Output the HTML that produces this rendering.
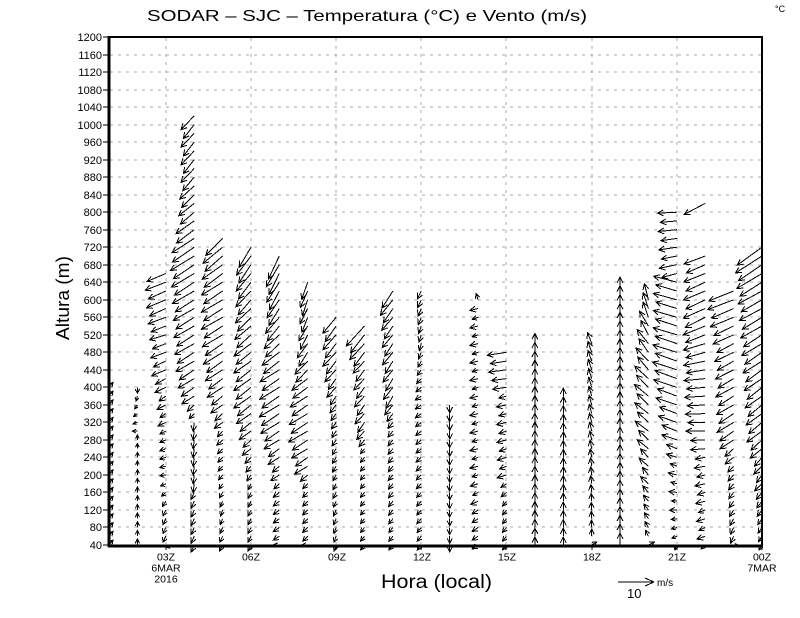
<!DOCTYPE html>
<html><head><meta charset="utf-8">
<style>
html,body{margin:0;padding:0;background:#fff;}
svg{display:block;}
text{font-family:"Liberation Sans",sans-serif;fill:#000;}
</style></head>
<body>
<svg id="s" width="800" height="618" viewBox="0 0 800 618" xmlns="http://www.w3.org/2000/svg">
<rect width="800" height="618" fill="#fff"/>
<g id="grid" stroke="#a8a8a8" stroke-width="1" stroke-dasharray="3,5" shape-rendering="crispEdges"></g>
<g id="ticks" stroke="#000" stroke-width="1" shape-rendering="crispEdges"></g>
<g id="ylab" font-size="11" text-anchor="end"></g>
<path id="arrows" fill="none" stroke="#000" stroke-width="1" shape-rendering="crispEdges" d=""/>
<!-- frame -->
<line x1="109" y1="37" x2="762" y2="37" stroke="#000" stroke-width="2" shape-rendering="crispEdges"/>
<line x1="762" y1="36" x2="762" y2="546" stroke="#000" stroke-width="2" shape-rendering="crispEdges"/>
<line x1="109" y1="36" x2="109" y2="547" stroke="#000" stroke-width="3" shape-rendering="crispEdges"/>
<line x1="108" y1="546" x2="763" y2="546" stroke="#000" stroke-width="3" shape-rendering="crispEdges"/>
<!-- x labels -->
<g font-size="10.5" text-anchor="middle">
<text x="166" y="560.5">03Z</text>
<text x="166" y="571.5">6MAR</text>
<text x="166" y="582.5">2016</text>
<text x="251" y="560.5">06Z</text>
<text x="337" y="560.5">09Z</text>
<text x="422" y="560.5">12Z</text>
<text x="507" y="560.5">15Z</text>
<text x="592" y="560.5">18Z</text>
<text x="677" y="560.5">21Z</text>
<text x="762" y="560.5">00Z</text>
<text x="762" y="571.5">7MAR</text>
</g>
<!-- titles -->
<text x="147" y="21" font-size="16" textLength="440" lengthAdjust="spacingAndGlyphs">SODAR  –  SJC  –  Temperatura (°C) e Vento (m/s)</text>
<text x="775" y="12" font-size="9">°C</text>
<text x="0" y="0" font-size="18" textLength="84" lengthAdjust="spacingAndGlyphs" transform="translate(69,340) rotate(-90)">Altura (m)</text>
<text x="381" y="588" font-size="19" textLength="111" lengthAdjust="spacingAndGlyphs">Hora (local)</text>
<!-- legend -->
<g stroke="#000" stroke-width="1" fill="none" shape-rendering="crispEdges">
<line x1="618" y1="582" x2="654" y2="582"/>
<line x1="654" y1="582" x2="645" y2="578"/>
<line x1="654" y1="582" x2="645" y2="586"/>
</g>
<text x="627" y="598" font-size="13">10</text>
<text x="657" y="586" font-size="10">m/s</text>
</svg>
<script>
(function(){
var NS="http://www.w3.org/2000/svg";
function yOf(h){return 545-(h-40)*508/1160;}
function xOfHour(hr){return 109+(hr-1)*653/23;}
var grid=document.getElementById('grid'), ticks=document.getElementById('ticks'), ylab=document.getElementById('ylab');
for(var h=40;h<=1200;h+=40){
  var y=Math.round(yOf(h));
  if(h>40&&h<1200){var l=document.createElementNS(NS,'line');l.setAttribute('x1',110);l.setAttribute('x2',761);l.setAttribute('y1',y);l.setAttribute('y2',y);grid.appendChild(l);}
  var t=document.createElementNS(NS,'line');t.setAttribute('x1',103);t.setAttribute('x2',109);t.setAttribute('y1',y);t.setAttribute('y2',y);ticks.appendChild(t);
  var tx=document.createElementNS(NS,'text');tx.setAttribute('x',102);tx.setAttribute('y',y+4);tx.textContent=h;ylab.appendChild(tx);
}
for(var hr=3;hr<=24;hr+=3){
  var x=Math.round(xOfHour(hr));
  if(hr<24){var l2=document.createElementNS(NS,'line');l2.setAttribute('x1',x);l2.setAttribute('x2',x);l2.setAttribute('y1',38);l2.setAttribute('y2',544);grid.appendChild(l2);}
  var t2=document.createElementNS(NS,'line');t2.setAttribute('x1',x);t2.setAttribute('x2',x);t2.setAttribute('y1',546);t2.setAttribute('y2',550);ticks.appendChild(t2);
}
var cols=[
 {hr:1,top:400,k:[[400,4,-5],[40,4,-5]]},
 {hr:2,top:400,k:[[400,0,6],[340,-4,3],[300,-5,0],[280,0,-5],[40,0,-6]]},
 {hr:3,top:660,k:[[660,-20,8],[600,-18,8],[520,-15,5],[440,-13,6],[380,-8,5],[300,-6,3],[200,-6,1],[130,-3,6],[60,-3,6],[40,4,3]]},
 {hr:4,top:1020,k:[[1020,-12,14],[900,-12,14],[800,-15,12],[720,-23,15],[600,-20,12],[480,-18,11],[400,-14,9],[340,-5,5],[320,-1,9],[180,-1,9],[160,-3,7],[40,-3,7]]},
 {hr:5,top:740,k:[[740,-18,17],[640,-20,13],[560,-20,12],[480,-18,12],[400,-14,10],[320,-7,6],[260,-5,5],[200,-4,5],[120,-2,6],[40,-3,6]]},
 {hr:6,top:720,k:[[720,-13,20],[600,-14,15],[480,-16,12],[380,-16,12],[320,-12,9],[240,-6,6],[180,-3,6],[40,-3,6]]},
 {hr:7,top:700,k:[[700,-12,23],[600,-11,18],[520,-14,14],[440,-18,12],[340,-19,12],[280,-14,9],[220,-8,6],[160,-6,5],[60,-6,4],[40,-6,0]]},
 {hr:8,top:640,k:[[640,-6,17],[560,-7,15],[480,-10,14],[400,-16,11],[300,-18,11],[220,-12,8],[180,-5,5],[60,-5,5],[40,-6,0]]},
 {hr:9,top:560,k:[[560,-12,16],[480,-12,14],[400,-8,10],[340,-5,7],[280,-4,6],[40,-2,6]]},
 {hr:10,top:540,k:[[540,-17,20],[460,-10,12],[320,-8,10],[260,-4,5],[40,-4,5]]},
 {hr:11,top:620,k:[[620,-12,17],[560,-10,13],[380,-8,12],[320,-5,6],[40,-4,5]]},
 {hr:12,top:620,k:[[620,-4,8],[500,-2,7],[380,-6,4],[200,-5,5],[40,-4,5]]},
 {hr:13,top:360,k:[[360,0,8],[40,0,7]]},
 {hr:14,top:600,k:[[600,-2,-6],[580,-7,2],[200,-7,2],[120,-6,4],[40,-6,4]]},
 {hr:15,top:480,k:[[480,-18,3],[420,-16,2],[380,-9,2],[200,-8,3],[140,-4,5],[40,-4,5]]},
 {hr:16,top:500,k:[[500,0,-10],[40,0,-8]]},
 {hr:17,top:380,k:[[380,0,-8],[40,0,-8]]},
 {hr:18,top:500,k:[[500,-4,-11],[400,-3,-10],[200,-1,-8],[60,0,-7],[40,5,-3]]},
 {hr:19,top:620,k:[[620,0,-14],[40,0,-12]]},
 {hr:20,top:600,k:[[600,-4,-16],[500,-10,-14],[400,-13,-12],[300,-12,-10],[220,-8,-8],[140,-5,-6],[60,-3,-6],[40,6,-3]]},
 {hr:21,top:800,k:[[800,-18,1],[660,-16,4],[640,-22,-6],[420,-23,-8],[300,-16,-6],[230,-8,-3],[60,-5,2],[40,-2,5]]},
 {hr:22,top:700,k:[[700,-20,8],[560,-21,10],[420,-20,2],[300,-18,0],[230,-10,2],[60,-7,3],[40,-4,4]],extra:[[820,-21,11]]},
 {hr:23,top:620,k:[[620,-26,10],[500,-18,9],[300,-15,10],[230,-6,6],[60,-3,7],[40,4,0]]},
 {hr:24,top:720,k:[[720,-26,18],[600,-22,12],[400,-16,12],[300,-14,11],[220,-7,8],[40,-3,5]]}
];
function interp(k,h){
  if(h>=k[0][0])return [k[0][1],k[0][2]];
  for(var i=0;i<k.length-1;i++){var a=k[i],b=k[i+1];
    if(h<=a[0]&&h>=b[0]){var t=(a[0]-h)/(a[0]-b[0]);return [a[1]+(b[1]-a[1])*t,a[2]+(b[2]-a[2])*t];}}
  var l=k[k.length-1];return [l[1],l[2]];
}
var d="";
var th=27*Math.PI/180, c=Math.cos(th), s=Math.sin(th);
function arrow(x0,y0,dx,dy){
  var len=Math.sqrt(dx*dx+dy*dy); if(len<0.5)return;
  var x1=x0+dx,y1=y0+dy, vx=-dx/len, vy=-dy/len;
  var L=len>=8?6.5:len*0.8;
  var b1x=x1+L*(vx*c-vy*s), b1y=y1+L*(vx*s+vy*c);
  var b2x=x1+L*(vx*c+vy*s), b2y=y1+L*(-vx*s+vy*c);
  d+="M"+x0.toFixed(1)+" "+y0.toFixed(1)+"L"+x1.toFixed(1)+" "+y1.toFixed(1)+
     "M"+b1x.toFixed(1)+" "+b1y.toFixed(1)+"L"+x1.toFixed(1)+" "+y1.toFixed(1)+"L"+b2x.toFixed(1)+" "+b2y.toFixed(1);
}
for(var i=0;i<cols.length;i++){
  var cl=cols[i], x=xOfHour(cl.hr);
  for(var h=40;h<=cl.top;h+=20){
    var v=interp(cl.k,h);
    var j=((h/20+cl.hr)%2===0)?1:-1;
    arrow(x,yOf(h),v[0]+(Math.abs(v[0])>6?j*1.2:0),v[1]);
  }
  if(cl.extra){for(var e=0;e<cl.extra.length;e++){var ex=cl.extra[e];arrow(x,yOf(ex[0]),ex[1],ex[2]);}}
}
document.getElementById('arrows').setAttribute('d',d);
})();
</script>
</body></html>
